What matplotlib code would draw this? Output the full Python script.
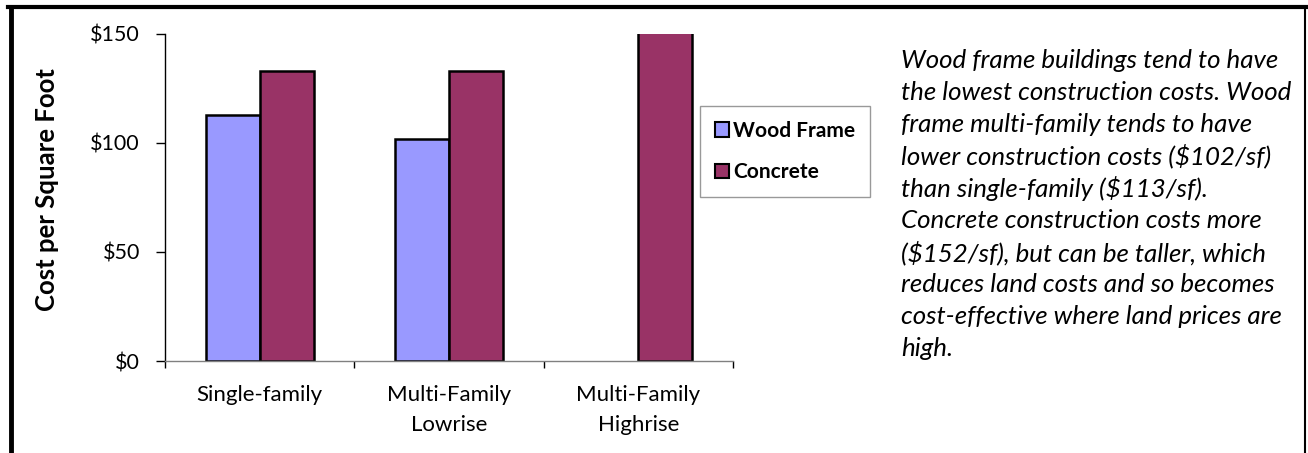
import numpy as np
import matplotlib.pyplot as plt
from matplotlib.lines import Line2D
from matplotlib.patches import Patch

plt.rcParams['font.family'] = ['Lato', 'DejaVu Sans']

categories = ['Single-family', 'Multi-Family\nLowrise', 'Multi-Family\nHighrise']
wood_frame = [113, 102, np.nan]
concrete = [133, 133, 152]
y_ticks = [0, 50, 100, 150]
y_tick_labels = ['$0', '$50', '$100', '$150']

note_lines = [
    'Wood frame buildings tend to have',
    'the lowest construction costs. Wood',
    'frame multi-family tends to have',
    'lower construction costs ($102/sf)',
    'than single-family ($113/sf).',
    'Concrete construction costs more',
    '($152/sf), but can be taller, which',
    'reduces land costs and so becomes',
    'cost-effective where land prices are',
    'high.',
]

W, H = 1308, 453
fig = plt.figure(figsize=(W / 100, H / 100), dpi=100)
ax = fig.add_axes([165 / W, 1 - 361 / H, (733 - 165) / W, (361 - 34) / H])

x = np.arange(len(categories))
bw = 0.286
ax.bar(x - bw / 2, wood_frame, bw, color='#9999FF', edgecolor='black', linewidth=1.8, label='Wood Frame')
ax.bar(x + bw / 2, concrete, bw, color='#993366', edgecolor='black', linewidth=1.8, label='Concrete')

ax.set_xlim(-0.5, len(categories) - 0.5)
ax.set_ylim(0, 150)
ax.set_yticks(y_ticks)
ax.set_yticklabels(y_tick_labels, fontsize=15.5)
ax.set_xticks(x)
ax.set_xticklabels(categories, fontsize=16, linespacing=1.65)
ax.tick_params(axis='x', length=0, pad=17)
ax.tick_params(axis='y', length=6.5, width=1, direction='out', pad=11.5)
# category separators on the x axis
ax.set_xticks(np.arange(len(categories) + 1) - 0.5, minor=True)
ax.tick_params(axis='x', which='minor', length=5, width=1, direction='out')

for s in ['top', 'right']:
    ax.spines[s].set_visible(False)
ax.spines['left'].set_linewidth(1)
ax.spines['bottom'].set_color('#808080')
ax.spines['bottom'].set_linewidth(1)
ax.set_ylabel('Cost per Square Foot', fontsize=18.5, fontweight='bold')
ax.yaxis.set_label_coords((59 - 165) / (733 - 165), (361 - 190) / (361 - 34))

handles = [Patch(facecolor='#9999FF', edgecolor='black', linewidth=1.5),
           Patch(facecolor='#993366', edgecolor='black', linewidth=1.5)]
leg = fig.legend(handles, ['Wood Frame', 'Concrete'], loc='upper left',
                 bbox_to_anchor=(700 / W, 1 - 106 / H), prop={'weight': 'bold', 'size': 15},
                 frameon=True, fancybox=False, edgecolor='#808080', handlelength=0.7,
                 handleheight=0.7, handletextpad=0.2, labelspacing=1.05, borderpad=0.7,
                 borderaxespad=0)
leg.get_frame().set_linewidth(1)

for i, line in enumerate(note_lines):
    fig.text(901 / W, 1 - (60 + 32.1 * i) / H, line, fontsize=18.6, style='italic',
             ha='left', va='center')

# outer frame
fig.add_artist(Line2D([8 / W, 1306 / W], [1 - 7 / H] * 2, transform=fig.transFigure, color='black', lw=3))
fig.add_artist(Line2D([10.5 / W] * 2, [1 - 7 / H, 0], transform=fig.transFigure, color='black', lw=3.5))
fig.add_artist(Line2D([1305 / W] * 2, [1 - 7 / H, 0], transform=fig.transFigure, color='black', lw=1.5))

fig.savefig('out.png', dpi=100)
